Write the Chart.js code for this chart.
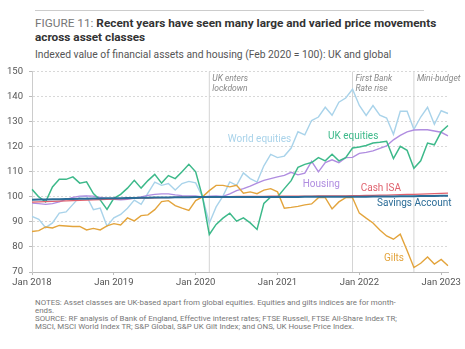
<!DOCTYPE html>
<html>
<head>
<meta charset="utf-8">
<script src="https://cdn.jsdelivr.net/npm/chart.js@4.4.0/dist/chart.umd.min.js"></script>
<style>
  html, body { margin: 0; padding: 0; background: #fff; }
  body { width: 465px; height: 349px; position: relative; overflow: hidden; font-family: Roboto, sans-serif; }
  .rule { position: absolute; left: 35px; top: 10px; width: 389px; height: 1px; background: #ccc; }
  .title { position: absolute; left: 35px; top: 16px; white-space: nowrap; font-size: 11.8px; line-height: 14px; color: #333; font-weight: bold; }
  .title .fig { font-weight: normal; color: #777; }
  .subtitle { position: absolute; left: 35px; top: 48px; white-space: nowrap; font-size: 10.3px; color: #555; }
  .notes { position: absolute; left: 35px; top: 299px; white-space: nowrap; font-size: 7.9px; line-height: 8.1px; color: #777; }
  #wrap { position: absolute; left: 0; top: 60px; width: 465px; height: 235px; }
</style>
</head>
<body>
<div class="rule"></div>
<div class="title"><span class="fig">FIGURE 11:</span> Recent years have seen many large and varied price movements<br>across asset classes</div>
<div class="subtitle">Indexed value of financial assets and housing (Feb 2020 = 100): UK and global</div>
<div id="wrap"><canvas id="chart" width="465" height="235"></canvas></div>
<div class="notes">NOTES: Asset classes are UK-based apart from global equities. Equities and gilts indices are for month-<br>ends.<br>SOURCE: RF analysis of Bank of England, Effective interest rates; FTSE Russell, FTSE All-Share Index TR;<br>MSCI, MSCI World Index TR; S&amp;P Global, S&amp;P UK Gilt Index; and ONS, UK House Price Index.</div>

<script>
// Monthly data, Jan 2018 - Feb 2023
const monthNames = ['Jan', 'Feb', 'Mar', 'Apr', 'May', 'Jun', 'Jul', 'Aug', 'Sep', 'Oct', 'Nov', 'Dec'];
const years = [2018, 2019, 2020, 2021, 2022, 2023];
const monthLabels = [];
years.forEach(y => monthNames.forEach(m => monthLabels.push(`${m} ${y}`)));
monthLabels.length = 62;

const ukEquities = [
  103, 100, 98, 104, 107, 107, 108, 105.5, 106, 101.3, 98.8, 95,
  99.4, 101, 103.5, 106.6, 103.5, 106.5, 109, 105.5, 108.5, 107.3, 110, 113,
  110, 100, 85, 89, 91.5, 93.5, 90.3, 91.6, 89.6, 87, 97.4, 100,
  100, 103.3, 106.5, 111.8, 113, 113.7, 115.7, 114.4, 117, 114.4, 115.7, 119.5,
  119.9, 120.5, 121.5, 121.8, 122.2, 115.3, 120.2, 118.6, 111.4, 114.4, 121.5, 120.8,
  126, 128.5
];
const worldEquities = [
  92.2, 91, 87.7, 89.6, 93.5, 94, 97, 100, 100.3, 94.9, 95.5, 88.3,
  91.6, 93, 95.5, 98.7, 97, 101.5, 105.9, 104.6, 105.3, 102.7, 105.3, 106.2,
  105.6, 100, 89.5, 96, 100.3, 106, 104.6, 109.6, 107.3, 105.9, 112.4, 117,
  115.7, 116.3, 119.5, 126, 124.8, 130.5, 131.9, 135.8, 132.6, 137.8, 139.5, 143,
  136.5, 132.5, 136.5, 132.6, 131.5, 125, 134.2, 134.2, 127, 131.9, 135.8, 129,
  134.4, 133.3
];
const housing = [
  97.5, 97.3, 97, 97.3, 98, 99, 99.8, 100.3, 100.4, 100.3, 99.8, 99.3,
  99, 98.8, 99, 99.5, 100, 100.6, 101, 101.2, 101.2, 100.8, 100.5, 100.4,
  100.4, 100, 100.3, 100.4, 100.2, 101.2, 102.5, 103.3, 104.3, 105.5, 106.6, 107.3,
  108, 108.6, 109.8, 108.8, 109.5, 114.2, 110, 113.7, 114.8, 113.7, 115.7, 115.8,
  117.4, 117.8, 118.4, 119.4, 120.4, 122.8, 124.6, 126, 126.7, 126.8, 126.8, 126.3,
  125.8, 124.4
];
const cashIsa = [
  97.9, 98.0, 98.1, 98.2, 98.3, 98.4, 98.5, 98.6, 98.7, 98.8, 98.9, 99.0,
  99.1, 99.2, 99.3, 99.4, 99.5, 99.5, 99.6, 99.7, 99.7, 99.8, 99.9, 99.9,
  100.0, 100.0, 100.1, 100.1, 100.1, 100.1, 100.2, 100.2, 100.2, 100.2, 100.2, 100.3,
  100.3, 100.3, 100.3, 100.3, 100.3, 100.3, 100.4, 100.4, 100.4, 100.4, 100.4, 100.5,
  100.5, 100.6, 100.6, 100.7, 100.7, 100.8, 100.9, 101.0, 101.0, 101.1, 101.2, 101.3,
  101.4, 101.5
];
const savingsAccount = [
  98.9, 99.0, 99.0, 99.1, 99.1, 99.2, 99.2, 99.3, 99.3, 99.4, 99.4, 99.5,
  99.5, 99.5, 99.6, 99.6, 99.7, 99.7, 99.8, 99.8, 99.8, 99.9, 99.9, 99.9,
  100.0, 100.0, 100.0, 100.0, 100.0, 100.0, 100.0, 100.0, 100.0, 100.0, 100.0, 100.0,
  100.0, 100.0, 100.0, 100.0, 100.1, 100.1, 100.1, 100.1, 100.1, 100.1, 100.1, 100.1,
  100.1, 100.1, 100.2, 100.2, 100.2, 100.2, 100.3, 100.3, 100.3, 100.4, 100.4, 100.4,
  100.5, 100.5
];
const gilts = [
  86.2, 86.5, 88, 87.6, 88.6, 88.4, 88.2, 88.2, 86.8, 87.4, 86.8, 88.4,
  89.3, 88.8, 91.6, 90.4, 92.5, 92.8, 94.9, 98.1, 98.5, 96.5, 95.5, 94.6,
  98.5, 100, 102.5, 104.6, 104.6, 104, 104.6, 101.5, 102, 101.3, 102.7, 103.3,
  102, 95.5, 95.8, 96.2, 96.8, 97.2, 99.7, 99.7, 95.2, 98, 99.7, 99.7,
  93.5, 91.5, 89.6, 86.8, 84.4, 83.1, 85.1, 78.6, 71.8, 73.5, 76, 73.2,
  75, 72.5
];

// Events (month index) and their notes
const eventMonths = [26, 47, 56];
const eventNotes = [['UK enters', 'lockdown'], ['First Bank', 'Rate rise'], ['Mini-budget']];

const colors = {
  uk: '#3db98a',
  world: '#a9d3ea',
  housing: '#b08de0',
  cash: '#e0626e',
  savings: '#2b6c97',
  gilts: '#e3a43c'
};

// Series labels placed at (month, value) on the chart
const seriesLabels = [
  { text: 'World equities', month: 28.7, value: 123.1, color: colors.world },
  { text: 'UK equities', month: 43.4, value: 124.2, color: colors.uk },
  { text: 'Housing', month: 39.7, value: 105.1, color: colors.housing },
  { text: 'Cash ISA', month: 48.2, value: 103.2, color: colors.cash },
  { text: 'Savings Account', month: 50.6, value: 97.3, color: colors.savings },
  { text: 'Gilts', month: 51.6, value: 75.5, color: colors.gilts }
];

const eventPlugin = {
  id: 'events',
  beforeDatasetsDraw(chart) {
    const { ctx, chartArea, scales } = chart;
    ctx.save();
    eventMonths.forEach((m, i) => {
      const x = scales.x.getPixelForValue(m);
      ctx.strokeStyle = '#d4d4d4';
      ctx.lineWidth = 1;
      ctx.beginPath();
      ctx.moveTo(x, chartArea.top);
      ctx.lineTo(x, chartArea.bottom);
      ctx.stroke();
      ctx.fillStyle = '#888';
      ctx.font = 'italic 8.5px Roboto, sans-serif';
      ctx.textBaseline = 'middle';
      ctx.textAlign = 'left';
      eventNotes[i].forEach((line, j) => {
        ctx.fillText(line, x + 3, chartArea.top + 7 + j * 10.5);
      });
    });
    ctx.restore();
  }
};

const labelPlugin = {
  id: 'seriesLabels',
  afterDatasetsDraw(chart) {
    const { ctx, scales } = chart;
    ctx.save();
    ctx.font = '10px Roboto, sans-serif';
    ctx.textBaseline = 'middle';
    ctx.textAlign = 'left';
    seriesLabels.forEach(l => {
      ctx.fillStyle = l.color;
      ctx.fillText(l.text, scales.x.getPixelForValue(l.month), scales.y.getPixelForValue(l.value));
    });
    ctx.restore();
  }
};

function series(label, data, color, width, order) {
  return { label, data, borderColor: color, borderWidth: width, order, pointRadius: 0, tension: 0, fill: false };
}

new Chart(document.getElementById('chart'), {
  type: 'line',
  data: {
    labels: monthLabels,
    datasets: [
      series('World equities', worldEquities, colors.world, 1.4, 6),
      series('Housing', housing, colors.housing, 1.4, 5),
      series('Gilts', gilts, colors.gilts, 1.4, 4),
      series('UK equities', ukEquities, colors.uk, 1.5, 3),
      series('Cash ISA', cashIsa, colors.cash, 1.4, 2),
      series('Savings Account', savingsAccount, colors.savings, 2, 1)
    ]
  },
  options: {
    responsive: false,
    animation: false,
    layout: { padding: { top: 2.3, right: 17, left: 0, bottom: 0 } },
    plugins: { legend: { display: false }, tooltip: { enabled: false } },
    scales: {
      x: {
        offset: false,
        grid: {
          drawOnChartArea: false,
          tickLength: 3,
          tickColor: c => (monthLabels[c.index] || '').startsWith('Jan') ? '#bbb' : 'transparent'
        },
        border: { color: '#bbb' },
        ticks: {
          autoSkip: false,
          maxRotation: 0,
          padding: 2,
          color: '#555',
          font: { size: 9.5, family: 'Roboto' },
          callback: (v, i) => monthLabels[i].startsWith('Jan') ? monthLabels[i] : ''
        },
        afterFit: s => { s.height = 23; }
      },
      y: {
        min: 70,
        max: 150,
        grid: { color: '#d8d8d8', tickLength: 3, tickColor: '#bbb' },
        border: { color: '#ccc', dash: [2, 2] },
        ticks: { stepSize: 10, color: '#555', padding: 6, font: { size: 9.5, family: 'Roboto' } },
        afterFit: s => { s.width = 32; }
      }
    }
  },
  plugins: [eventPlugin, labelPlugin]
});
</script>
</body>
</html>
